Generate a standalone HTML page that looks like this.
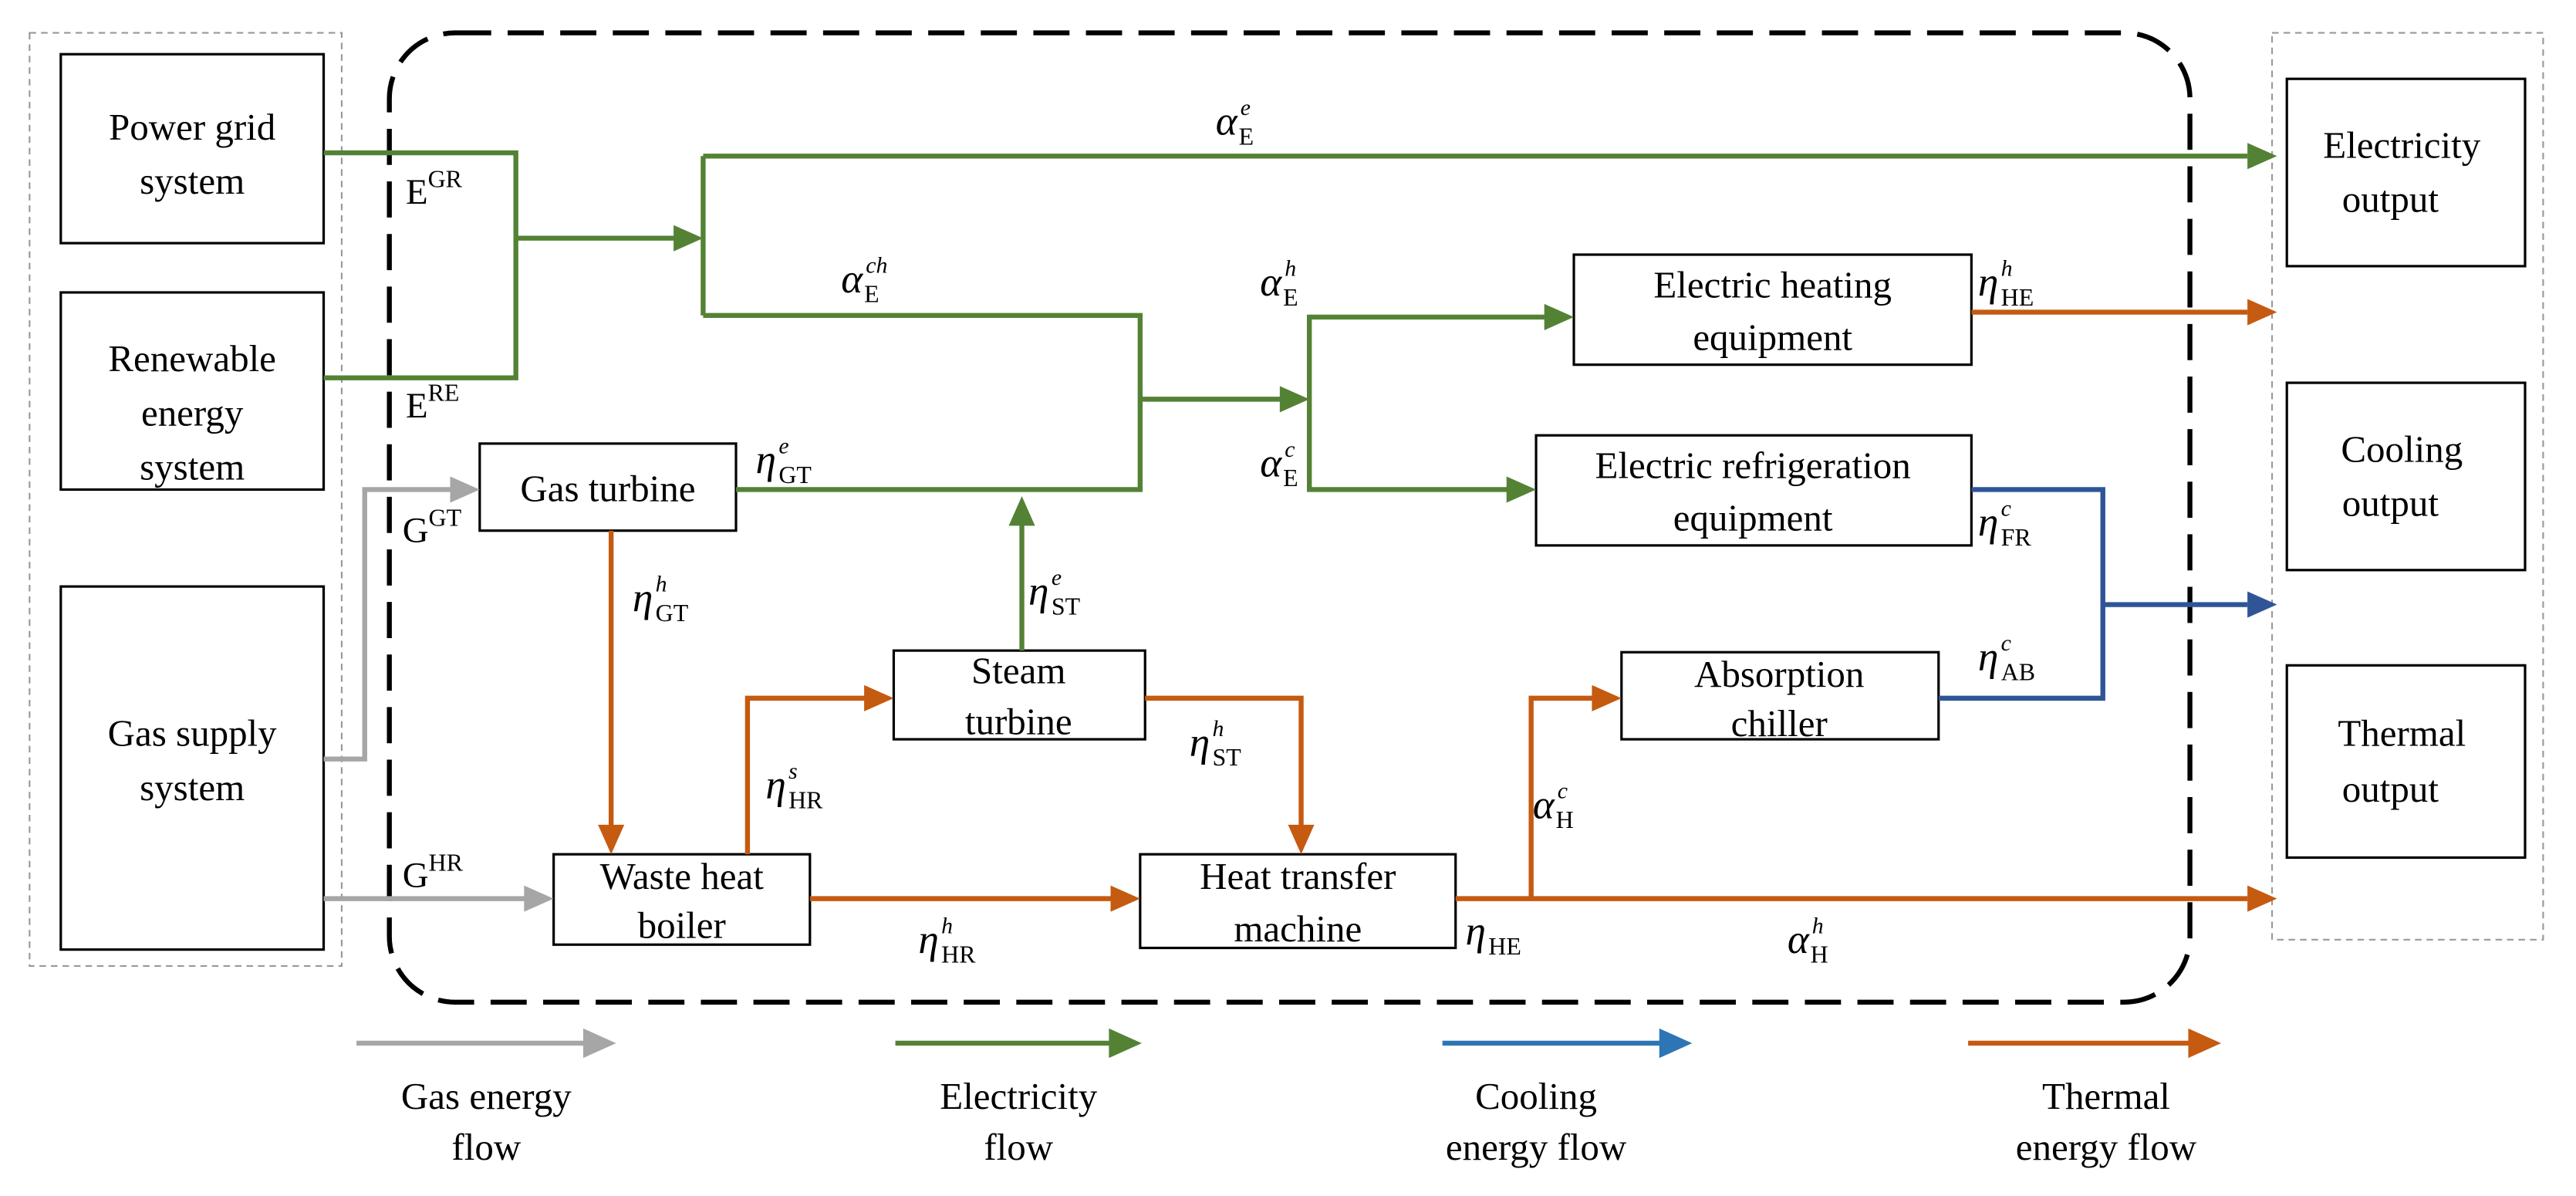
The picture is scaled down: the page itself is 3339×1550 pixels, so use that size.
<!DOCTYPE html>
<html><head><meta charset="utf-8"><style>
html,body{margin:0;padding:0;background:#fff;}
svg{display:block;}
text{font-family:"Liberation Serif",serif;fill:#000;}
.b{font-size:23px;text-anchor:middle;}
.m{font-size:25px;font-style:italic;}
.s{font-size:15px;}
.p{font-size:14px;font-style:italic;}
</style></head><body>
<svg width="3339" height="1550" viewBox="0 0 1568 728" preserveAspectRatio="none" xmlns="http://www.w3.org/2000/svg">
<g fill="none">
<rect x="18" y="20" width="190" height="568" stroke="#999" stroke-dasharray="4,3" stroke-width="1"/>
<rect x="1383" y="20" width="165" height="552" stroke="#999" stroke-dasharray="4,3" stroke-width="1"/>
<rect x="237" y="20" width="1096" height="590" rx="40" stroke="#000" stroke-width="3" stroke-dasharray="22,10"/>
<g stroke="#000" stroke-width="1.5">
<rect x="37" y="33" width="160" height="115"/>
<rect x="37" y="178" width="160" height="120"/>
<rect x="37" y="357" width="160" height="221"/>
<rect x="1392" y="48" width="145" height="114"/>
<rect x="1392" y="233" width="145" height="114"/>
<rect x="1392" y="405" width="145" height="117"/>
<rect x="292" y="270" width="156" height="53"/>
<rect x="544" y="396" width="153" height="54"/>
<rect x="337" y="520" width="156" height="55"/>
<rect x="694" y="520" width="192" height="57"/>
<rect x="958" y="155" width="242" height="67"/>
<rect x="935" y="265" width="265" height="67"/>
<rect x="987" y="397" width="193" height="53"/>
</g>
<g stroke="#548235" stroke-width="3">
<polyline points="197,93 314,93 314,230 197,230"/>
<line x1="314" y1="145" x2="412" y2="145"/>
<line x1="428" y1="95" x2="428" y2="192"/>
<line x1="428" y1="95" x2="1368" y2="95"/>
<polyline points="428,192 694,192 694,298 448,298"/>
<line x1="622" y1="396" x2="622" y2="318"/>
<line x1="694" y1="243" x2="781" y2="243"/>
<polyline points="942,193 797,193 797,298 919,298"/>
</g>
<g fill="#548235">
<path d="M428,145 L410,137 L410,153Z"/>
<path d="M1386,95 L1368,87 L1368,103Z"/>
<path d="M622,302 L614,320 L630,320Z"/>
<path d="M797,243 L779,235 L779,251Z"/>
<path d="M958,193 L940,185 L940,201Z"/>
<path d="M935,298 L917,290 L917,306Z"/>
<path d="M695,635 L675,626 L675,644Z"/>
</g>
<line x1="545" y1="635" x2="678" y2="635" stroke="#548235" stroke-width="3"/>
<g stroke="#C55A11" stroke-width="3">
<line x1="1200" y1="190" x2="1368" y2="190"/>
<line x1="372" y1="323" x2="372" y2="504"/>
<polyline points="455,520 455,425 528,425"/>
<polyline points="697,425 792,425 792,504"/>
<line x1="493" y1="547" x2="678" y2="547"/>
<line x1="886" y1="547" x2="1368" y2="547"/>
<polyline points="932,547 932,425 971,425"/>
<line x1="1198" y1="635" x2="1333" y2="635"/>
</g>
<g fill="#C55A11">
<path d="M1386,190 L1368,182 L1368,198Z"/>
<path d="M372,520 L364,502 L380,502Z"/>
<path d="M544,425 L526,417 L526,433Z"/>
<path d="M792,520 L784,502 L800,502Z"/>
<path d="M694,547 L676,539 L676,555Z"/>
<path d="M1386,547 L1368,539 L1368,555Z"/>
<path d="M987,425 L969,417 L969,433Z"/>
<path d="M1352,635 L1332,626 L1332,644Z"/>
</g>
<g stroke="#2F5597" stroke-width="3">
<polyline points="1200,298 1280,298 1280,425 1180,425"/>
<line x1="1280" y1="368" x2="1368" y2="368"/>
</g>
<line x1="878" y1="635" x2="1012" y2="635" stroke="#2E75B6" stroke-width="3"/>
<path d="M1386,368 L1368,360 L1368,376Z" fill="#2F5597"/>
<path d="M1030,635 L1010,626 L1010,644Z" fill="#2E75B6"/>
<g stroke="#A6A6A6" stroke-width="3">
<polyline points="197,462 222,462 222,298 276,298"/>
<line x1="197" y1="547" x2="321" y2="547"/>
<line x1="217" y1="635" x2="357" y2="635"/>
</g>
<g fill="#A6A6A6">
<path d="M292,298 L274,290 L274,306Z"/>
<path d="M337,547 L319,539 L319,555Z"/>
<path d="M375,635 L355,626 L355,644Z"/>
</g>
</g>
<text class="b" x="117" y="85">Power grid</text><text class="b" x="117" y="118">system</text>
<text class="b" x="117" y="226">Renewable</text><text class="b" x="117" y="259">energy</text><text class="b" x="117" y="292">system</text>
<text class="b" x="117" y="454">Gas supply</text><text class="b" x="117" y="487">system</text>
<text class="b" x="1462" y="96">Electricity</text><text class="b" x="1455" y="129">output</text>
<text class="b" x="1462" y="281">Cooling</text><text class="b" x="1455" y="314">output</text>
<text class="b" x="1462" y="454">Thermal</text><text class="b" x="1455" y="488">output</text>
<text class="b" x="370" y="305">Gas turbine</text>
<text class="b" x="620" y="416">Steam</text><text class="b" x="620" y="447">turbine</text>
<text class="b" x="415" y="541">Waste heat</text><text class="b" x="415" y="571">boiler</text>
<text class="b" x="790" y="541">Heat transfer</text><text class="b" x="790" y="573">machine</text>
<text class="b" x="1079" y="181">Electric heating</text><text class="b" x="1079" y="213">equipment</text>
<text class="b" x="1067" y="291">Electric refrigeration</text><text class="b" x="1067" y="323">equipment</text>
<text class="b" x="1083" y="418">Absorption</text><text class="b" x="1083" y="448">chiller</text>
<text class="b" x="296" y="675">Gas energy</text><text class="b" x="296" y="706">flow</text>
<text class="b" x="620" y="675">Electricity</text><text class="b" x="620" y="706">flow</text>
<text class="b" x="935" y="675">Cooling</text><text class="b" x="935" y="706">energy flow</text>
<text class="b" x="1282" y="675">Thermal</text><text class="b" x="1282" y="706">energy flow</text>
<text style="font-size:22px" x="247" y="124">E<tspan class="s" dy="-10">GR</tspan></text>
<text style="font-size:22px" x="247" y="254">E<tspan class="s" dy="-10">RE</tspan></text>
<text style="font-size:22px" x="245" y="330">G<tspan class="s" dy="-10">GT</tspan></text>
<text style="font-size:22px" x="245" y="540">G<tspan class="s" dy="-10">HR</tspan></text>
<g>
<text class="m" x="740" y="82">α</text><text class="p" x="755" y="70">e</text><text class="s" x="754" y="88">E</text>
<text class="m" x="512" y="178">α</text><text class="p" x="527" y="166">ch</text><text class="s" x="526" y="184">E</text>
<text class="m" x="767" y="180">α</text><text class="p" x="782" y="168">h</text><text class="s" x="781" y="186">E</text>
<text class="m" x="767" y="290">α</text><text class="p" x="782" y="278">c</text><text class="s" x="781" y="296">E</text>
<text class="m" x="460" y="288">η</text><text class="p" x="474" y="276">e</text><text class="s" x="474" y="294">GT</text>
<text class="m" x="385" y="372">η</text><text class="p" x="399" y="360">h</text><text class="s" x="399" y="378">GT</text>
<text class="m" x="626" y="368">η</text><text class="p" x="640" y="356">e</text><text class="s" x="640" y="374">ST</text>
<text class="m" x="724" y="460">η</text><text class="p" x="738" y="448">h</text><text class="s" x="738" y="466">ST</text>
<text class="m" x="466" y="486">η</text><text class="p" x="480" y="474">s</text><text class="s" x="480" y="492">HR</text>
<text class="m" x="559" y="580">η</text><text class="p" x="573" y="568">h</text><text class="s" x="573" y="586">HR</text>
<text class="m" x="892" y="575">η</text><text class="s" x="906" y="581">HE</text>
<text class="m" x="1088" y="580">α</text><text class="p" x="1103" y="568">h</text><text class="s" x="1102" y="586">H</text>
<text class="m" x="933" y="498">α</text><text class="p" x="948" y="486">c</text><text class="s" x="947" y="504">H</text>
<text class="m" x="1204" y="180">η</text><text class="p" x="1218" y="168">h</text><text class="s" x="1218" y="186">HE</text>
<text class="m" x="1204" y="326">η</text><text class="p" x="1218" y="314">c</text><text class="s" x="1218" y="332">FR</text>
<text class="m" x="1204" y="408">η</text><text class="p" x="1218" y="396">c</text><text class="s" x="1218" y="414">AB</text>
</g>
</svg>
</body></html>
